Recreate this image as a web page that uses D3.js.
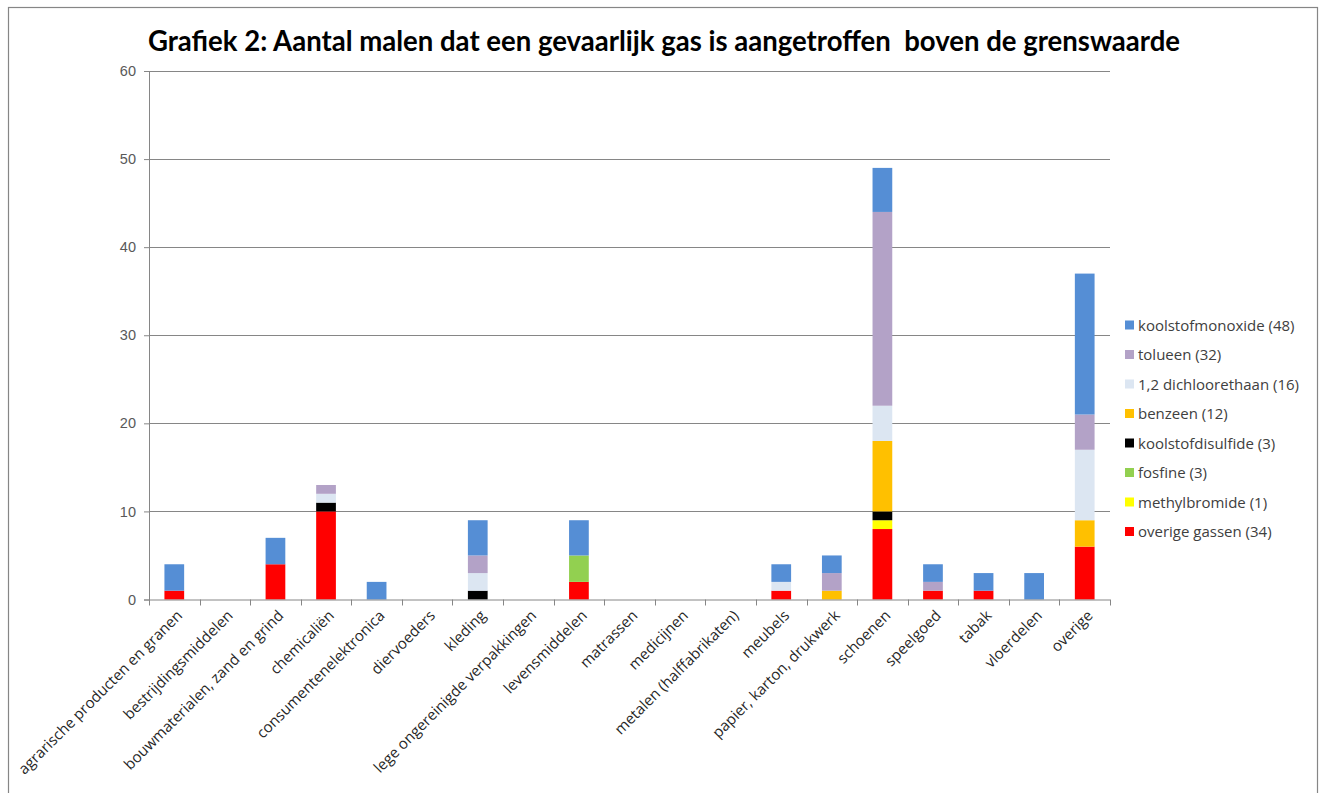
<!DOCTYPE html>
<html><head><meta charset="utf-8">
<script src="https://cdn.jsdelivr.net/npm/d3@7"></script>
<style>
html,body{margin:0;padding:0;background:#fff;}
svg{display:block;}
</style></head>
<body>
<svg id="chart" width="1323" height="793"></svg>
<script>
const categories = ["agrarische producten en granen","bestrijdingsmiddelen","bouwmaterialen, zand en grind","chemicaliën","consumentenelektronica","diervoeders","kleding","lege ongereinigde verpakkingen","levensmiddelen","matrassen","medicijnen","metalen (halffabrikaten)","meubels","papier, karton, drukwerk","schoenen","speelgoed","tabak","vloerdelen","overige"];
// series (bottom to top in stack)
const seriesNames = ["overige gassen (34)","methylbromide (1)","fosfine (3)","koolstofdisulfide (3)","benzeen (12)","1,2 dichloorethaan (16)","tolueen (32)","koolstofmonoxide (48)"];
const overigeGassen     = [1,0,4,10,0,0,0,0,2,0,0,0,1,0,8,1,1,0,6];
const methylbromide     = [0,0,0,0,0,0,0,0,0,0,0,0,0,0,1,0,0,0,0];
const fosfine           = [0,0,0,0,0,0,0,0,3,0,0,0,0,0,0,0,0,0,0];
const koolstofdisulfide = [0,0,0,1,0,0,1,0,0,0,0,0,0,0,1,0,0,0,0];
const benzeen           = [0,0,0,0,0,0,0,0,0,0,0,0,0,1,8,0,0,0,3];
const dichloorethaan    = [0,0,0,1,0,0,2,0,0,0,0,0,1,0,4,0,0,0,8];
const tolueen           = [0,0,0,1,0,0,2,0,0,0,0,0,0,2,22,1,0,0,4];
const koolstofmonoxide  = [3,0,3,0,2,0,4,0,4,0,0,0,2,2,5,2,2,3,16];
const yTicks = [0,10,20,30,40,50,60];
const colors = ["#FF0000","#FFFF00","#92D050","#000000","#FFC000","#DCE6F2","#B3A2C7","#558ED5"];
const legendOrder = [7,6,5,4,3,2,1,0];

const seriesValues = [overigeGassen,methylbromide,fosfine,koolstofdisulfide,benzeen,dichloorethaan,tolueen,koolstofmonoxide];
const table = categories.map((c,i)=>{const o={cat:c}; seriesNames.forEach((s,j)=>o[s]=seriesValues[j][i]); return o;});

const svg = d3.select("#chart");
// frame
svg.append("rect").attr("x",8.5).attr("y",7.5).attr("width",1309).attr("height",800)
  .attr("fill","#fff").attr("stroke","#868686").attr("stroke-width",1.2);

const pLeft=149, pRight=1110, pTop=71, pBottom=599.5;
const x = d3.scaleBand().domain(categories).range([pLeft,pRight]).paddingInner(0.61).paddingOuter(0.305);
const y = d3.scaleLinear().domain([0,60]).range([pBottom,pTop]);

// title
svg.append("text").attr("x",664).attr("y",51).attr("text-anchor","middle")
  .style("white-space","pre")
  .attr("font-family","Lato, 'Open Sans', sans-serif").attr("font-weight","bold").attr("font-size",28)
  .attr("fill","#000").attr("textLength",1032).attr("lengthAdjust","spacingAndGlyphs")
  .text("Grafiek 2: Aantal malen dat een gevaarlijk gas is aangetroffen  boven de grenswaarde");

// grid
svg.append("g").selectAll("line").data(yTicks.filter(t=>t>0)).join("line")
  .attr("x1",pLeft).attr("x2",pRight).attr("y1",d=>Math.round(y(d))+0.5).attr("y2",d=>Math.round(y(d))+0.5)
  .attr("stroke","#868686").attr("stroke-width",1);

// y axis
const yAxis = svg.append("g").attr("transform",`translate(${pLeft},0)`)
  .call(d3.axisLeft(y).tickValues(yTicks).tickSize(5).tickPadding(8));
yAxis.select(".domain").attr("stroke","#868686");
yAxis.selectAll(".tick line").attr("stroke","#868686");
yAxis.selectAll(".tick text").attr("font-family","'Liberation Sans', Arial, sans-serif").attr("font-size",14.5).attr("fill","#595959");

// bars
const stack = d3.stack().keys(seriesNames);
const stacked = stack(table);
svg.append("g").selectAll("g").data(stacked).join("g")
  .attr("fill",(d,i)=>colors[i])
  .selectAll("rect").data(d=>d.filter(v=>v[1]-v[0]>0)).join("rect")
  .attr("x",d=>x(d.data.cat)).attr("width",x.bandwidth())
  .attr("y",d=>y(d[1])).attr("height",d=>y(d[0])-y(d[1]));

// x axis
const xAxisG = svg.append("g").attr("transform",`translate(0,${pBottom})`);
xAxisG.append("line").attr("x1",pLeft).attr("x2",pRight).attr("y1",0.5).attr("y2",0.5).attr("stroke","#868686");
const step = x.step();
const bounds = d3.range(categories.length+1).map(i=>pLeft+i*step);
xAxisG.selectAll("line.tk").data(bounds).join("line").attr("class","tk")
  .attr("x1",d=>Math.round(d)+0.5).attr("x2",d=>Math.round(d)+0.5).attr("y1",0).attr("y2",6).attr("stroke","#868686");
xAxisG.selectAll("text").data(categories).join("text")
  .attr("transform",d=>`translate(${x(d)+x.bandwidth()/2+9},${17}) rotate(-45)`)
  .attr("text-anchor","end")
  .attr("font-family","'Open Sans', sans-serif").attr("font-size",15).attr("fill","#262626")
  .text(d=>d);

// legend
const lg = svg.append("g");
legendOrder.forEach((si,k)=>{
  const yy = 325 + k*29.5;
  lg.append("rect").attr("x",1125).attr("y",yy-4.5).attr("width",9).attr("height",9).attr("fill",colors[si]);
  lg.append("text").attr("x",1138).attr("y",yy+5.5).attr("font-family","'Open Sans', sans-serif")
    .attr("font-size",15).attr("fill","#404040").text(seriesNames[si]);
});
</script>
</body></html>
